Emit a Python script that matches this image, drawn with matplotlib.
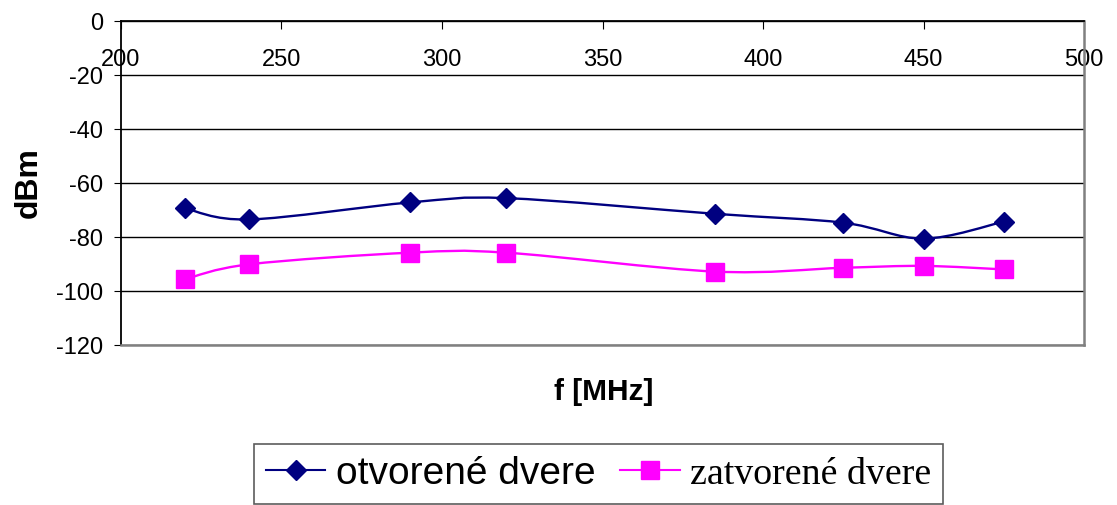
import matplotlib
matplotlib.use("Agg")
import matplotlib.pyplot as plt
from matplotlib.path import Path
from matplotlib.patches import PathPatch
from matplotlib.lines import Line2D

# data
freq = [220, 240, 290, 320, 385, 425, 450, 475]
open_door = [-69.4, -73.5, -67.2, -65.6, -71.4, -74.7, -80.6, -74.3]
closed_door = [-95.6, -90.1, -85.8, -85.8, -92.8, -91.4, -90.7, -92.0]
labels = ['otvorené dvere', 'zatvorené dvere']
colors = ['#000080', '#FF00FF']

plt.rcParams['font.family'] = ['Liberation Sans', 'DejaVu Sans']
plt.rcParams['axes.unicode_minus'] = False


def smooth_path(xs, ys):
    # bezier curve through the points, like excel's smoothed line
    pts = list(zip(xs, ys))
    n = len(pts)
    verts = [pts[0]]
    codes = [Path.MOVETO]
    for i in range(n - 1):
        p0 = pts[i - 1] if i > 0 else pts[i]
        p1 = pts[i]
        p2 = pts[i + 1]
        p3 = pts[i + 2] if i + 2 < n else pts[i + 1]
        c1 = (p1[0] + (p2[0] - p0[0]) / 6, p1[1] + (p2[1] - p0[1]) / 6)
        c2 = (p2[0] - (p3[0] - p1[0]) / 6, p2[1] - (p3[1] - p1[1]) / 6)
        verts += [c1, c2, p2]
        codes += [Path.CURVE4] * 3
    return Path(verts, codes)


fig = plt.figure(figsize=(11.17, 5.05), dpi=100)
ax = fig.add_axes([0.1083, 0.3168, 0.8622, 0.6416])

series = [open_door, closed_door]
markers = ['D', 's']
msizes = [10.2, 13.4]
for vals, col, mk, ms in zip(series, colors, markers, msizes):
    ax.add_patch(PathPatch(smooth_path(freq, vals), facecolor='none',
                           edgecolor=col, lw=1.7, zorder=3))
    ax.plot(freq, vals, linestyle='none', marker=mk, markersize=ms,
            color=col, zorder=4)

ax.set_xlim(200, 500)
ax.set_ylim(-120, 0)
ax.set_xticks(range(200, 501, 50))
ax.set_yticks(range(-120, 1, 20))

ax.yaxis.grid(True, color='black', linewidth=1)
ax.set_axisbelow(True)

ax.spines['top'].set_color('black')
ax.spines['top'].set_linewidth(1.3)
ax.spines['left'].set_color('black')
ax.spines['left'].set_linewidth(1.3)
ax.spines['right'].set_color('#808080')
ax.spines['right'].set_linewidth(1.8)
ax.spines['bottom'].set_color('#808080')
ax.spines['bottom'].set_linewidth(1.8)

ax.tick_params(axis='x', top=True, bottom=False, labeltop=True,
               labelbottom=False, direction='in', length=6, pad=-36,
               labelsize=17)
ax.tick_params(axis='y', direction='out', length=5, labelsize=17, pad=8)

ax.set_ylabel('dBm', fontsize=23, fontweight='bold', labelpad=9)
fig.text(0.5405, 0.224, 'f [MHz]', ha='center', va='center',
         fontsize=21.5, fontweight='bold')

handles = [Line2D([], [], color=c, marker=m, markersize=s, lw=1.5)
           for c, m, s in zip(colors, markers, msizes)]
leg = fig.legend(handles, labels, loc='center', bbox_to_anchor=(0.5358, 0.0614),
                 ncol=2, fontsize=28, frameon=True, fancybox=False,
                 handlelength=1.54, handletextpad=0.26, columnspacing=0.64,
                 borderpad=0.3, borderaxespad=0)
leg.get_frame().set_edgecolor('#333333')
leg.get_frame().set_linewidth(1.2)
leg.get_texts()[1].set_family(['Liberation Serif', 'DejaVu Serif'])
leg.get_texts()[1].set_fontsize(27.3)

fig.savefig('out.png', dpi=100)
